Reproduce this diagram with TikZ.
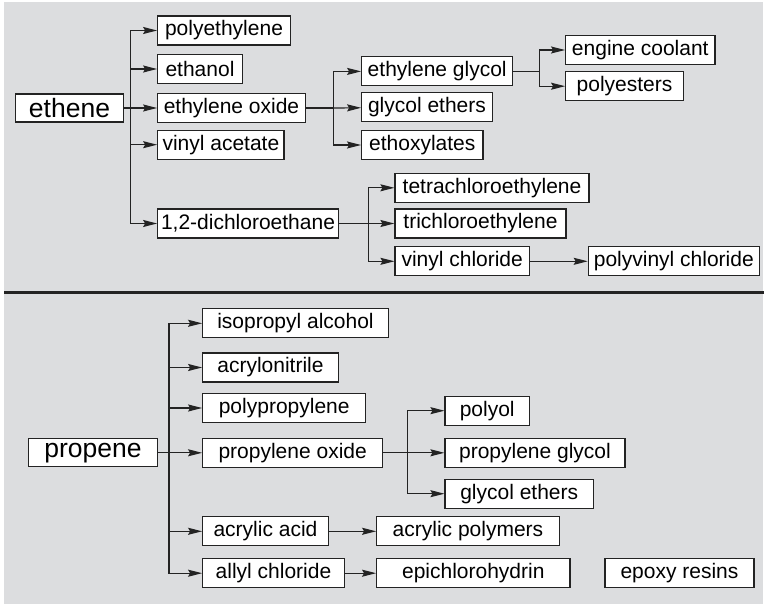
\documentclass[tikz,border=0pt]{standalone}
\usepackage{fontspec}
\setmainfont{Liberation Sans}
\usetikzlibrary{arrows.meta}

\definecolor{panelgray}{RGB}{220,221,223}
\definecolor{inkgray}{RGB}{35,35,35}

\begin{document}
\begin{tikzpicture}[x=1pt, y=-1pt,
    box/.style={draw=inkgray, fill=white, line width=1.2pt, minimum height=29pt, inner sep=0pt, font=\fontsize{21}{24}\selectfont},
    feedbox/.style={box, minimum height=28pt, font=\fontsize{26.5}{30}\selectfont},
    link/.style={draw=inkgray, line width=1.2pt},
    feed/.style={link, -{Stealth[length=14pt, width=7pt, inset=2pt]}}]

        \useasboundingbox (0,0) rectangle (764,604);

        %===========================
        % Background
        %===========================

        \fill[panelgray] (4,2) rectangle (763,604);
        \draw[inkgray, line width=3pt] (4,292.5) -- (764,292.5);

        %===========================
        % Ethene
        %===========================
        \draw node (eth) at (69.5,108) [feedbox, minimum width=108.4pt]{ethene};

        \draw node (pe)  at (224,30.5)  [box, minimum width=132.6pt]{polyethylene};
        \draw node (etoh) at (200,69)   [box, minimum width=84.6pt]{ethanol};
        \draw node (eo)  at (231.5,108) [box, minimum width=147.6pt]{ethylene oxide};
        \draw node (va)  at (220.9,144.7) [box, minimum width=126.3pt]{vinyl acetate};
        \draw node (dce) at (248,223.5) [box, minimum width=180.6pt]{1,2-dichloroethane};

        \coordinate (J1) at (130.7,108);
        \draw[link] (eth) -- (J1);
        \draw[feed] (J1) |- (pe);
        \draw[feed] (J1) |- (etoh);
        \draw[feed] (J1) -- (eo);
        \draw[feed] (J1) |- (va);
        \draw[feed] (J1) |- (dce);

        % Ethylene oxide branch
        \draw node (eg)  at (437.2,71.4)  [box, minimum width=151pt]{ethylene glycol};
        \draw node (ge1) at (427,107.2)   [box, minimum width=130.6pt]{glycol ethers};
        \draw node (eox) at (422.3,145)   [box, minimum width=121.3pt]{ethoxylates};

        \coordinate (J2) at (333.3,108);
        \draw[link] (eo) -- (J2);
        \draw[feed] (J2) |- (eg);
        \draw[feed] (J2) -- (ge1);
        \draw[feed] (J2) |- (eox);

        % Ethylene glycol branch
        \draw node (ec)  at (640.3,50)    [box, minimum width=149.3pt]{engine coolant};
        \draw node (pes) at (624.5,86.2)  [box, minimum width=117.6pt]{polyesters};

        \coordinate (J3) at (539.3,71.4);
        \draw[link] (eg) -- (J3);
        \draw[feed] (J3) |- (ec);
        \draw[feed] (J3) |- (pes);

        % Dichloroethane branch
        \draw node (tce4) at (492,187.8)   [box, minimum width=194pt]{tetrachloroethylene};
        \draw node (tce3) at (480.5,223.5) [box, minimum width=171pt]{trichloroethylene};
        \draw node (vc)   at (462.2,261.3) [box, minimum width=134.3pt]{vinyl chloride};
        \draw node (pvc)  at (673.8,261.3) [box, minimum width=171pt]{polyvinyl chloride};

        \coordinate (J4) at (368.3,223.5);
        \draw[link] (dce) -- (J4);
        \draw[feed] (J4) |- (tce4);
        \draw[feed] (J4) -- (tce3);
        \draw[feed] (J4) |- (vc);
        \draw[feed] (vc) -- (pvc);

        %===========================
        % Propene
        %===========================
        \draw node (prp) at (93,452.8) [feedbox, minimum width=129.4pt]{propene};

        \draw node (ipa) at (295.5,323.3) [box, minimum width=185.6pt]{isopropyl alcohol};
        \draw node (acn) at (270.5,367.5) [box, minimum width=135.6pt]{acrylonitrile};
        \draw node (pp)  at (284.2,408)   [box, minimum width=163pt]{polypropylene};
        \draw node (po)  at (292.7,452.8) [box, minimum width=180pt]{propylene oxide};
        \draw node (aa)  at (265.5,531.3) [box, minimum width=125.6pt]{acrylic acid};
        \draw node (ac)  at (273.5,573.2) [box, minimum width=141.6pt]{allyl chloride};

        \coordinate (J5) at (169,452.8);
        \draw[link] (prp) -- (J5);
        \draw[feed] (J5) |- (ipa);
        \draw[feed] (J5) |- (acn);
        \draw[feed] (J5) |- (pp);
        \draw[feed] (J5) -- (po);
        \draw[feed] (J5) |- (aa);
        \draw[feed] (J5) |- (ac);

        % Propylene oxide branch
        \draw node (pol) at (487.2,410.7) [box, minimum width=84.3pt]{polyol};
        \draw node (pg)  at (535,452.8)   [box, minimum width=180pt]{propylene glycol};
        \draw node (ge2) at (519.2,493.7) [box, minimum width=148.3pt]{glycol ethers};

        \coordinate (J6) at (407.7,452.8);
        \draw[link] (po) -- (J6);
        \draw[feed] (J6) |- (pol);
        \draw[feed] (J6) -- (pg);
        \draw[feed] (J6) |- (ge2);

        % Downstream products
        \draw node (apol) at (468,531.3)   [box, minimum width=182.6pt]{acrylic polymers};
        \draw node (ech)  at (473.3,573.2) [box, minimum width=193.3pt]{epichlorohydrin};
        \draw node (epr)  at (679.5,573.2) [box, minimum width=149pt]{epoxy resins};

        \draw[feed] (aa) -- (apol);
        \draw[feed] (ac) -- (ech);

\end{tikzpicture}
\end{document}
